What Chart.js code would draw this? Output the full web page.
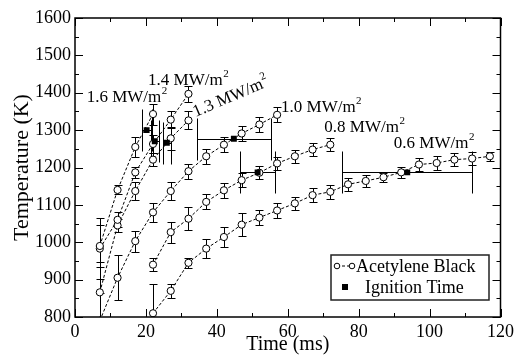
<!DOCTYPE html>
<html>
<head>
<meta charset="utf-8">
<script src="https://cdn.jsdelivr.net/npm/chart.js@4.4.1/dist/chart.umd.min.js"></script>
<style>
  html, body { margin: 0; padding: 0; background: #fff; }
  #chart { display: block; }
</style>
</head>
<body>
<canvas id="chart" width="518" height="356"></canvas>
<script>
// heat flux in MW/m^2, time in ms, temperature in K
const fluxNames = ['1.6', '1.4', '1.3', '1.0', '0.8', '0.6'];

const time16 = [7, 12, 17, 22];
const temp16 = [990, 1140, 1255, 1343];
const err16 = [55, 12, 26, 28];

const time14 = [7, 12, 17, 22, 27, 32];
const temp14 = [983, 1060, 1187, 1263, 1328, 1397];
const err14 = [82, 20, 15, 25, 22, 22];

const time13 = [7, 12, 17, 22, 27, 32];
const temp13 = [866, 1045, 1137, 1221, 1278, 1326];
const err13 = [80, 18, 25, 18, 30, 24];

const time10 = [7, 12, 17, 22, 27, 32, 37, 42, 47, 52, 57];
const temp10 = [790, 905, 1003, 1080, 1137, 1190, 1230, 1261, 1291, 1315, 1341];
const err10 = [75, 60, 28, 25, 25, 20, 20, 20, 20, 20, 20];

const time08 = [22, 27, 32, 37, 42, 47, 52, 57, 62, 67, 72];
const temp08 = [940, 1027, 1063, 1108, 1139, 1166, 1186, 1211, 1230, 1248, 1261];
const err08 = [18, 28, 31, 20, 20, 18, 18, 18, 18, 18, 18];

const time06 = [22, 27, 32, 37, 42, 47, 52, 57, 62, 67, 72, 77, 82, 87, 92, 97, 102, 107, 112, 117];
const temp06 = [810, 870, 945, 983, 1014, 1047, 1066, 1085, 1104, 1126, 1135, 1155, 1164, 1174, 1187, 1208, 1212, 1221, 1224, 1230];
const err06 = [78, 18, 14, 25, 28, 30, 20, 20, 18, 18, 18, 18, 15, 12, 15, 18, 18, 18, 18, 12];

// ignition time per flux, with its spread in time
const ignTime = [20.2, 22.5, 25.9, 44.8, 51.5, 93.7];
const ignTemp = [1300, 1270, 1266, 1277, 1187, 1187];
const ignTimeErr = [1.4, 1.2, 1.2, 10.5, 4.9, 18.3];

const xTicks = [0, 20, 40, 60, 80, 100, 120];
const yTicks = [800, 900, 1000, 1100, 1200, 1300, 1400, 1500, 1600];

// where the flux labels sit (time, temperature, rotation in degrees)
const labelAt = [[3.3, 1375, 0], [20.6, 1421, 0], [34.0, 1335, -23], [58.1, 1348, 0], [70.3, 1296, 0], [89.9, 1252, 0]];

const series = [
    { t: time16, T: temp16, e: err16 },
    { t: time14, T: temp14, e: err14 },
    { t: time13, T: temp13, e: err13 },
    { t: time10, T: temp10, e: err10 },
    { t: time08, T: temp08, e: err08 },
    { t: time06, T: temp06, e: err06 },
];

const SERIF = '"Liberation Serif", "Times New Roman", serif';
Chart.defaults.font.family = SERIF;
Chart.defaults.color = '#000';

function seg(ctx, x1, y1, x2, y2) {
    ctx.beginPath();
    ctx.moveTo(x1, y1);
    ctx.lineTo(x2, y2);
    ctx.stroke();
}

const errorBars = {
    id: 'errorBars',
    beforeDatasetsDraw(chart) {
        const { ctx, chartArea: a, scales: { x, y } } = chart;
        ctx.save();
        ctx.beginPath();
        ctx.rect(a.left, a.top, a.right - a.left, a.bottom - a.top);
        ctx.clip();
        ctx.strokeStyle = '#000';
        ctx.lineWidth = 1;
        series.forEach(s => {
            s.t.forEach((t, i) => {
                const px = Math.round(x.getPixelForValue(t)) + 0.5;
                const lo = Math.round(y.getPixelForValue(s.T[i] - s.e[i])) + 0.5;
                const hi = Math.round(y.getPixelForValue(s.T[i] + s.e[i])) + 0.5;
                seg(ctx, px, lo, px, hi);
                seg(ctx, px - 4, lo, px + 4, lo);
                seg(ctx, px - 4, hi, px + 4, hi);
            });
        });
        ignTime.forEach((t, i) => {
            const py = Math.round(y.getPixelForValue(ignTemp[i])) + 0.5;
            const l = Math.round(x.getPixelForValue(t - ignTimeErr[i])) + 0.5;
            const r = Math.round(x.getPixelForValue(t + ignTimeErr[i])) + 0.5;
            seg(ctx, l, py, r, py);
            seg(ctx, l, py - 21, l, py + 21);
            seg(ctx, r, py - 21, r, py + 21);
        });
        ctx.restore();
    }
};

const frameAndNotes = {
    id: 'frameAndNotes',
    afterDraw(chart) {
        const { ctx, chartArea: a, scales: { x, y } } = chart;
        ctx.save();
        ctx.strokeStyle = '#000';
        ctx.lineWidth = 1;
        // inward ticks on all four sides
        for (let v = 0; v <= 120; v += 10) {
            const px = Math.round(x.getPixelForValue(v)) + 0.5;
            const len = v % 20 === 0 ? 8 : 4;
            seg(ctx, px, a.bottom, px, a.bottom - len);
            seg(ctx, px, a.top, px, a.top + len);
        }
        for (let v = 800; v <= 1600; v += 50) {
            const py = Math.round(y.getPixelForValue(v)) + 0.5;
            const len = v % 100 === 0 ? 8 : 4;
            seg(ctx, a.left, py, a.left + len, py);
            seg(ctx, a.right, py, a.right - len, py);
        }
        ctx.lineWidth = 1.5;
        ctx.strokeRect(a.left, a.top, a.right - a.left, a.bottom - a.top);

        // flux labels
        ctx.fillStyle = '#000';
        ctx.textBaseline = 'alphabetic';
        fluxNames.forEach((name, i) => {
            const [t, T, rot] = labelAt[i];
            ctx.save();
            ctx.translate(x.getPixelForValue(t), y.getPixelForValue(T));
            ctx.rotate(rot * Math.PI / 180);
            ctx.font = '17px ' + SERIF;
            const txt = name + ' MW/m';
            ctx.fillText(txt, 0, 0);
            const w = ctx.measureText(txt).width;
            ctx.font = '11px ' + SERIF;
            ctx.fillText('2', w + 0.5, -8);
            ctx.restore();
        });

        // legend
        const bx = 331, by = 255, bw = 158, bh = 45;
        ctx.fillStyle = '#fff';
        ctx.fillRect(bx, by, bw, bh);
        ctx.strokeStyle = '#222';
        ctx.lineWidth = 1.5;
        ctx.strokeRect(bx, by, bw, bh);
        ctx.lineWidth = 1;
        ctx.strokeStyle = '#000';
        ctx.setLineDash([3, 2]);
        seg(ctx, 337, 266, 352, 266);
        ctx.setLineDash([]);
        [337, 352].forEach(cx => {
            ctx.beginPath();
            ctx.arc(cx, 266, 2.8, 0, Math.PI * 2);
            ctx.fillStyle = '#fff';
            ctx.fill();
            ctx.stroke();
        });
        ctx.fillStyle = '#000';
        ctx.fillRect(342, 284, 6, 6);
        ctx.font = '18px ' + SERIF;
        ctx.textBaseline = 'middle';
        ctx.fillText('Acetylene Black', 356, 267);
        ctx.fillText('Ignition Time', 365, 288);
        ctx.restore();
    }
};

const datasets = series.map((s, k) => ({
    label: fluxNames[k] + ' MW/m2',
    data: s.t.map((t, i) => ({ x: t, y: s.T[i] })),
    showLine: true,
    borderColor: '#000',
    borderWidth: 1,
    borderDash: [3, 2],
    pointRadius: 3.6,
    pointBackgroundColor: '#fff',
    pointBorderColor: '#000',
    pointBorderWidth: 1,
    clip: 0,
    order: 1
}));
datasets.push({
    label: 'Ignition Time',
    data: ignTime.map((t, i) => ({ x: t, y: ignTemp[i] })),
    showLine: false,
    pointStyle: 'rect',
    pointRadius: 4.2,
    pointBackgroundColor: '#000',
    pointBorderColor: '#000',
    pointBorderWidth: 0,
    clip: 0,
    order: 0
});

new Chart(document.getElementById('chart'), {
    type: 'scatter',
    data: { datasets: datasets },
    options: {
        responsive: false,
        animation: false,
        devicePixelRatio: 1,
        layout: { padding: { top: 18, right: 16, left: 0, bottom: 0 } },
        plugins: { legend: { display: false }, tooltip: { enabled: false } },
        scales: {
            x: {
                type: 'linear', min: 0, max: 120,
                afterFit: s => { s.height = 39; },
                afterBuildTicks: s => { s.ticks = xTicks.map(v => ({ value: v })); },
                grid: { display: false, drawTicks: false },
                border: { display: false },
                ticks: { font: { size: 18 }, padding: 4, maxRotation: 0, callback: v => String(v) },
                title: { display: true, text: 'Time (ms)', font: { size: 20, lineHeight: 1 }, padding: { top: 0, bottom: 1 } }
            },
            y: {
                type: 'linear', min: 800, max: 1600,
                afterFit: s => { s.width = 75; },
                afterBuildTicks: s => { s.ticks = yTicks.map(v => ({ value: v })); },
                grid: { display: false, drawTicks: false },
                border: { display: false },
                ticks: { font: { size: 18 }, padding: 4, callback: v => String(v) },
                title: { display: true, text: 'Temperature (K)', font: { size: 22, lineHeight: 1 }, padding: { top: 11, bottom: 0 } }
            }
        }
    },
    plugins: [errorBars, frameAndNotes]
});
</script>
</body>
</html>
